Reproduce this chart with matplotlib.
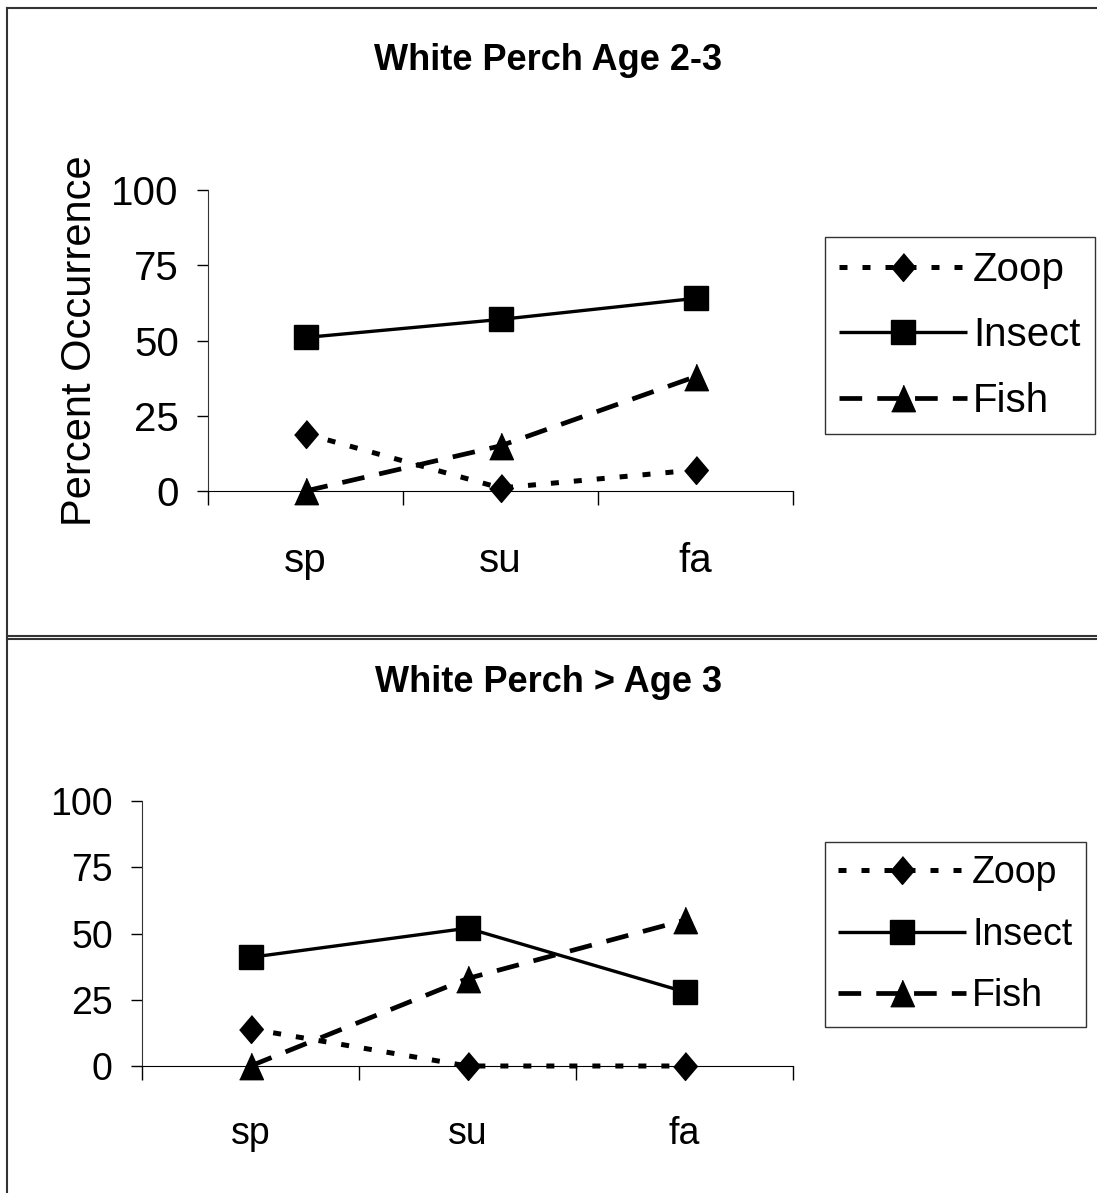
import matplotlib
matplotlib.use("Agg")
import matplotlib.pyplot as plt
from matplotlib.lines import Line2D

plt.rcParams['font.family'] = ['Liberation Sans', 'DejaVu Sans']

# data
seasons = ['sp', 'su', 'fa']
series_names = ['Zoop', 'Insect', 'Fish']
titles = ['White Perch Age 2-3', 'White Perch > Age 3']
yticks = [0, 25, 50, 75, 100]

zoop_23 = [19, 1, 7]
insect_23 = [51, 57, 64]
fish_23 = [0, 15, 38]

zoop_gt3 = [14, 0, 0]
insect_gt3 = [41, 52, 28]
fish_gt3 = [0, 33, 55]

W, H = 1097, 1193
fig = plt.figure(figsize=(W / 100, H / 100), dpi=100)

diamond = [(0, 1), (0.85, 0), (0, -1), (-0.85, 0)]
tri = [(0, 1), (0.9, -1), (-0.9, -1)]

styles = {
    'Zoop': dict(marker=diamond, markersize=20, linewidth=3.6, dashes=(1.6, 3.0)),
    'Insect': dict(marker='s', markersize=17, linewidth=2.4, linestyle='-'),
    'Fish': dict(marker=tri, markersize=19, linewidth=3.4, dashes=(4.8, 3.2)),
}


def fx(px):
    return px / W


def fy(py):
    return 1 - py / H


def panel(left, right, y0, y100, title, title_y, zoop, insect, fish, ylabel,
          leg_top, xpad, fs):
    ax = fig.add_axes([fx(left), fy(y0), fx(right - left), (y0 - y100) / H])
    x = range(len(seasons))
    for name, vals in zip(series_names, [zoop, insect, fish]):
        ax.plot(x, vals, color='black', clip_on=False, solid_capstyle='butt',
                dash_capstyle='butt', label=name, **styles[name])
    ax.set_xlim(-0.5, len(seasons) - 0.5)
    ax.set_ylim(0, 100)
    for s in ['top', 'right']:
        ax.spines[s].set_visible(False)
    ax.spines['left'].set_color('#333333')
    ax.spines['bottom'].set_color('black')
    ax.set_yticks(yticks)
    ax.set_xticks(list(x))
    ax.set_xticklabels(seasons)
    ax.set_xticks([i - 0.5 for i in range(len(seasons) + 1)], minor=True)
    ax.tick_params(axis='x', which='major', length=0, pad=xpad, labelsize=fs)
    ax.tick_params(axis='x', which='minor', length=10, direction='out', width=1)
    ax.tick_params(axis='y', length=8, direction='out', width=1, pad=13, labelsize=fs)
    if ylabel:
        ax.set_ylabel(ylabel, fontsize=30, labelpad=8)
    fig.text(0.5, fy(title_y), title, ha='center', va='center',
             fontsize=26, fontweight='bold')
    fs_px = fs * 100 / 72
    leg = ax.legend(loc='upper left', bbox_to_anchor=(fx(825), fy(leg_top)),
                    bbox_transform=fig.transFigure, fontsize=fs, frameon=True,
                    fancybox=False, edgecolor='black', handlelength=128 / fs_px,
                    handletextpad=6 / fs_px, labelspacing=0.68, borderpad=0.35,
                    numpoints=1, borderaxespad=0)
    leg.get_frame().set_linewidth(1.0)
    return ax


panel(208, 793, 491, 190, titles[0], 60, zoop_23, insect_23, fish_23,
      'Percent Occurrence', 237, 37, 29)
panel(142, 793, 1066, 801, titles[1], 682, zoop_gt3, insect_gt3, fish_gt3,
      None, 842, 36, 27)

# outer frame and divider
for line in [([fx(6.5), fx(W)], [fy(7.5), fy(7.5)]),
             ([fx(6.5), fx(6.5)], [fy(7.5), 0]),
             ([fx(6.5), fx(W)], [fy(636), fy(636)]),
             ([fx(6.5), fx(W)], [fy(639), fy(639)])]:
    fig.add_artist(Line2D(line[0], line[1], color='#333333', linewidth=1.5,
                          transform=fig.transFigure))

fig.savefig('out.png', dpi=100)
